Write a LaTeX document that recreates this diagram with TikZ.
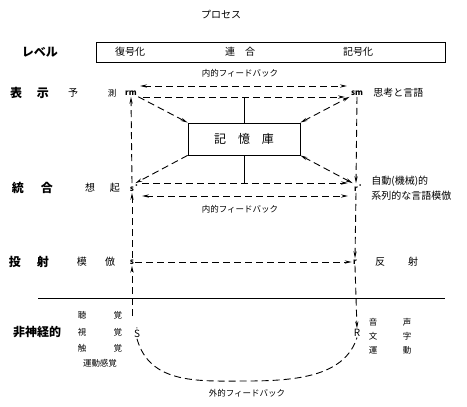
\documentclass[tikz,border=0pt]{standalone}
\usepackage{fontspec}
\setmainfont{Noto Sans CJK JP}
\usetikzlibrary{arrows.meta}

\begin{document}
\begin{tikzpicture}[x=1pt, y=-1pt, line width=0.8pt,
  dl/.style={line width=0.9pt, dash pattern=on 7pt off 4pt},
  tip/.style={-{Stealth[length=7pt,width=3.2pt]}},
  tips/.style={{Stealth[length=7pt,width=3.2pt]}-{Stealth[length=7pt,width=3.2pt]}},
  big/.style={font=\fontsize{12}{12}\selectfont\bfseries, inner sep=1pt},
  mid/.style={font=\fontsize{10}{10}\selectfont, inner sep=1pt},
  sml/.style={font=\fontsize{8.5}{8.5}\selectfont, inner sep=1pt},
  sym/.style={font=\fontsize{8}{8}\selectfont\bfseries, inner sep=1pt},
  membox/.style={draw, minimum width=112pt, minimum height=32pt, font=\fontsize{12}{12}\selectfont}]

\useasboundingbox (0,0) rectangle (467,407);

% header
\node[mid] (title) at (221,15) {プロセス};
\node[big] (lvl) at (40,52) {レベル};
\node[draw, minimum width=349pt, minimum height=20pt] (procbox) at (270.5,52) {};
\node[mid] (dec) at (130,52) {復号化};
\node[mid] (assoc) at (240,52) {連\quad 合};
\node[mid] (enc) at (358,52) {記号化};
\node[sml] (fbtop) at (240,73) {内的フィードバック};

% left column
\node[big] at (16,93) {表};  \node[big] at (43,93) {示};
\node[mid] at (73,93) {予};  \node[sml] at (112,93) {測};
\node[big] at (18,188) {統}; \node[big] at (47,188) {合};
\node[mid] at (90,188) {想}; \node[mid] at (115,188) {起};
\node[big] at (15,262) {投}; \node[big] at (43,262) {射};
\node[mid] at (82,262) {模}; \node[mid] at (110,262) {倣};
\node[big] (nonneural) at (37,332) {非神経的};
\node[sml] at (82,315) {聴}; \node[sml] at (118,315) {覚};
\node[sml] at (82,332) {視}; \node[sml] at (118,332) {覚};
\node[sml] at (82,348) {触}; \node[sml] at (118,348) {覚};
\node[sml] at (100,363) {運動感覚};

% points
\node[sym] (rm) at (131,93) {rm};
\node[sym] (sm) at (357,93) {sm};
\node[sym] (sdot) at (132,188) {\.{s}};
\node[sym] (rdot) at (356,188) {\.{r}};
\node[sym] (s) at (132,262) {s};
\node[sym] (r) at (355,262) {r};
\node[inner sep=0.5pt] (S) at (137,333) {$\dot{\mathrm{S}}$};
\node[inner sep=0.5pt] (R) at (357,333) {$\mathrm{R}$};

% right column
\node[mid, anchor=west] at (372,93) {思考と言語};
\node[mid, anchor=west] at (370,181) {自動(機械)的};
\node[mid, anchor=west] at (370,196) {系列的な言語模倣};
\node[mid] at (380,262) {反}; \node[mid] at (413,262) {射};
\node[sml] at (373,322) {音}; \node[sml] at (407,322) {声};
\node[sml] at (373,336) {文}; \node[sml] at (407,336) {字};
\node[sml] at (373,350) {運}; \node[sml] at (407,350) {動};

% memory
\node[membox] (mem) at (244,139) {記\quad 憶\quad 庫};
\node[sml] (fbmid) at (240,209) {内的フィードバック};
\node[sml] (fbout) at (247,393) {外的フィードバック};

\coordinate (t1l) at (140,86);  \coordinate (t1r) at (347,86);
\coordinate (t2l) at (143,97);  \coordinate (t2r) at (345,97);
\coordinate (b1l) at (142,183); \coordinate (b1r) at (348,183);
\coordinate (b2l) at (142,196); \coordinate (b2r) at (348,196);
\coordinate (gl) at (38,298);   \coordinate (gr) at (445,298);
\coordinate (Stop) at (132,316);

\draw (gl) -- (gr);
\draw (mem.north) -- (mem.north |- t2l);
\draw (mem.south) -- (mem.south |- b1l);

\begin{scope}[dl]
\draw[tips] (t1l) -- (t1r);
\draw[tip] (t2l) -- (t2r);
\draw[tip] (b1l) -- (b1r);
\draw[tips] (b2l) -- (b2r);
\draw[tip] (rm.south east) -- (mem.north west);
\draw[tip] (mem.south west) -- (sdot.north east);
\draw[tips] (mem.north east) -- (sm.south west);
\draw[tips] (mem.south east) -- (rdot.north west);
\draw[tip] (sdot.north) -- (rm.south);
\draw[tip] (s.north) -- (sdot.south);
\draw[tip] (Stop) -- (s.south);
\draw[tip] (sm.south) -- (rdot.north);
\draw[tip] (rdot.south) -- (r.north);
\draw[tip] (r.south) -- (R.north);
\draw[tip] (s.east) -- (r.west);
\draw (S.south) .. controls (150,385) and (200,381) .. (247,381)
  .. controls (300,381) and (345,375) .. (R.south);
\end{scope}

\end{tikzpicture}
\end{document}
